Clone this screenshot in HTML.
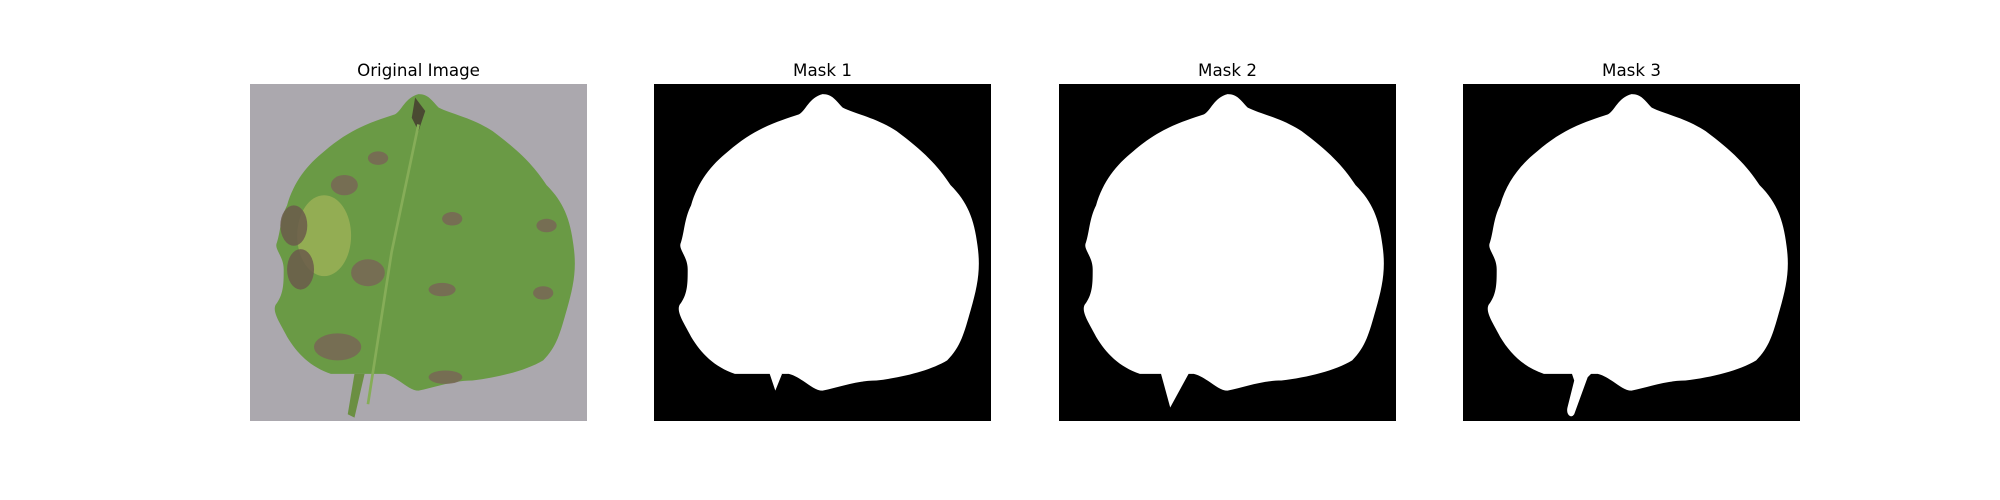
<!DOCTYPE html>
<html><head><meta charset="utf-8"><style>
html,body{margin:0;padding:0;background:#fff;}
svg{display:block;}
text{font-family:"DejaVu Sans","Liberation Sans",sans-serif;font-size:16.7px;fill:#000;}
</style></head><body>
<svg width="2000" height="500" viewBox="0 0 2000 500">
<defs>
<path id="leaf" d="M50,3 C46,4 45,8 43,9 C37,11 30,13 22,20 C17,24 13,29 11,36 C9,40 9,44 8,47 C7,49 10,51 10,55 C10,59 10,62 8,65 C6,67 9,71 11,75 C14,80 18,84 24,86 L31,86 L40,86 C44,87 47,91 50,91 C55,90 60,88 66,88 C74,87 82,85 87,82 C91,78 92,74 94,67 C96,60 97,55 96,48 C95,40 93,35 88,30 C84,24 80,20 72,14 C66,10 60,9 56,7 C54,5 53,3 50,3 Z"/>
</defs>

<g transform="translate(250,84) scale(3.37)">
<rect width="100" height="100" fill="#aba8ae"/>
<use href="#leaf" fill="#6a9a45"/>
<path d="M31,86 L29,98 L31,99 L34,86 Z" fill="#6b8f42"/>
<path d="M49,4 L48,10 L50,14 L52,8 Z" fill="#4a4a32"/>
<ellipse cx="22" cy="45" rx="8" ry="12" fill="#b5bd5e" opacity="0.55"/>
<ellipse cx="13" cy="42" rx="4" ry="6" fill="#6b5b4b" opacity="0.85"/>
<ellipse cx="28" cy="30" rx="4" ry="3" fill="#786656" opacity="0.85"/>
<ellipse cx="15" cy="55" rx="4" ry="6" fill="#6b5b4b" opacity="0.85"/>
<ellipse cx="35" cy="56" rx="5" ry="4" fill="#786656" opacity="0.85"/>
<ellipse cx="26" cy="78" rx="7" ry="4" fill="#786656" opacity="0.85"/>
<ellipse cx="57" cy="61" rx="4" ry="2" fill="#786656" opacity="0.85"/>
<ellipse cx="60" cy="40" rx="3" ry="2" fill="#786656" opacity="0.85"/>
<ellipse cx="88" cy="42" rx="3" ry="2" fill="#786656" opacity="0.85"/>
<ellipse cx="58" cy="87" rx="5" ry="2" fill="#786656" opacity="0.85"/>
<ellipse cx="38" cy="22" rx="3" ry="2" fill="#786656" opacity="0.85"/>
<ellipse cx="87" cy="62" rx="3" ry="2" fill="#786656" opacity="0.85"/>
<path d="M50,12 L42,50 L35,95" stroke="#86ad58" stroke-width="0.8" fill="none"/>
</g>

<g transform="translate(654,84) scale(3.37)">
<rect width="100" height="100" fill="#000"/>
<use href="#leaf" fill="#fff"/>
<path d="M34,85 L36,91 L38,86 Z" fill="#fff"/>
</g>

<g transform="translate(1059,84) scale(3.37)">
<rect width="100" height="100" fill="#000"/>
<use href="#leaf" fill="#fff"/>
<path d="M30,85 L33,96 L39,85 Z" fill="#fff"/>
</g>

<g transform="translate(1463,84) scale(3.37)">
<rect width="100" height="100" fill="#000"/>
<use href="#leaf" fill="#fff"/>
<path d="M32,85 L33,88 L31,96 C30.5,98 32,99.5 33,98 L37,87 L39,85 Z" fill="#fff"/>
</g>

<text x="418.5" y="76" text-anchor="middle">Original Image</text>
<text x="822.5" y="76" text-anchor="middle">Mask 1</text>
<text x="1227.5" y="76" text-anchor="middle">Mask 2</text>
<text x="1631.5" y="76" text-anchor="middle">Mask 3</text>
</svg>
</body></html>
